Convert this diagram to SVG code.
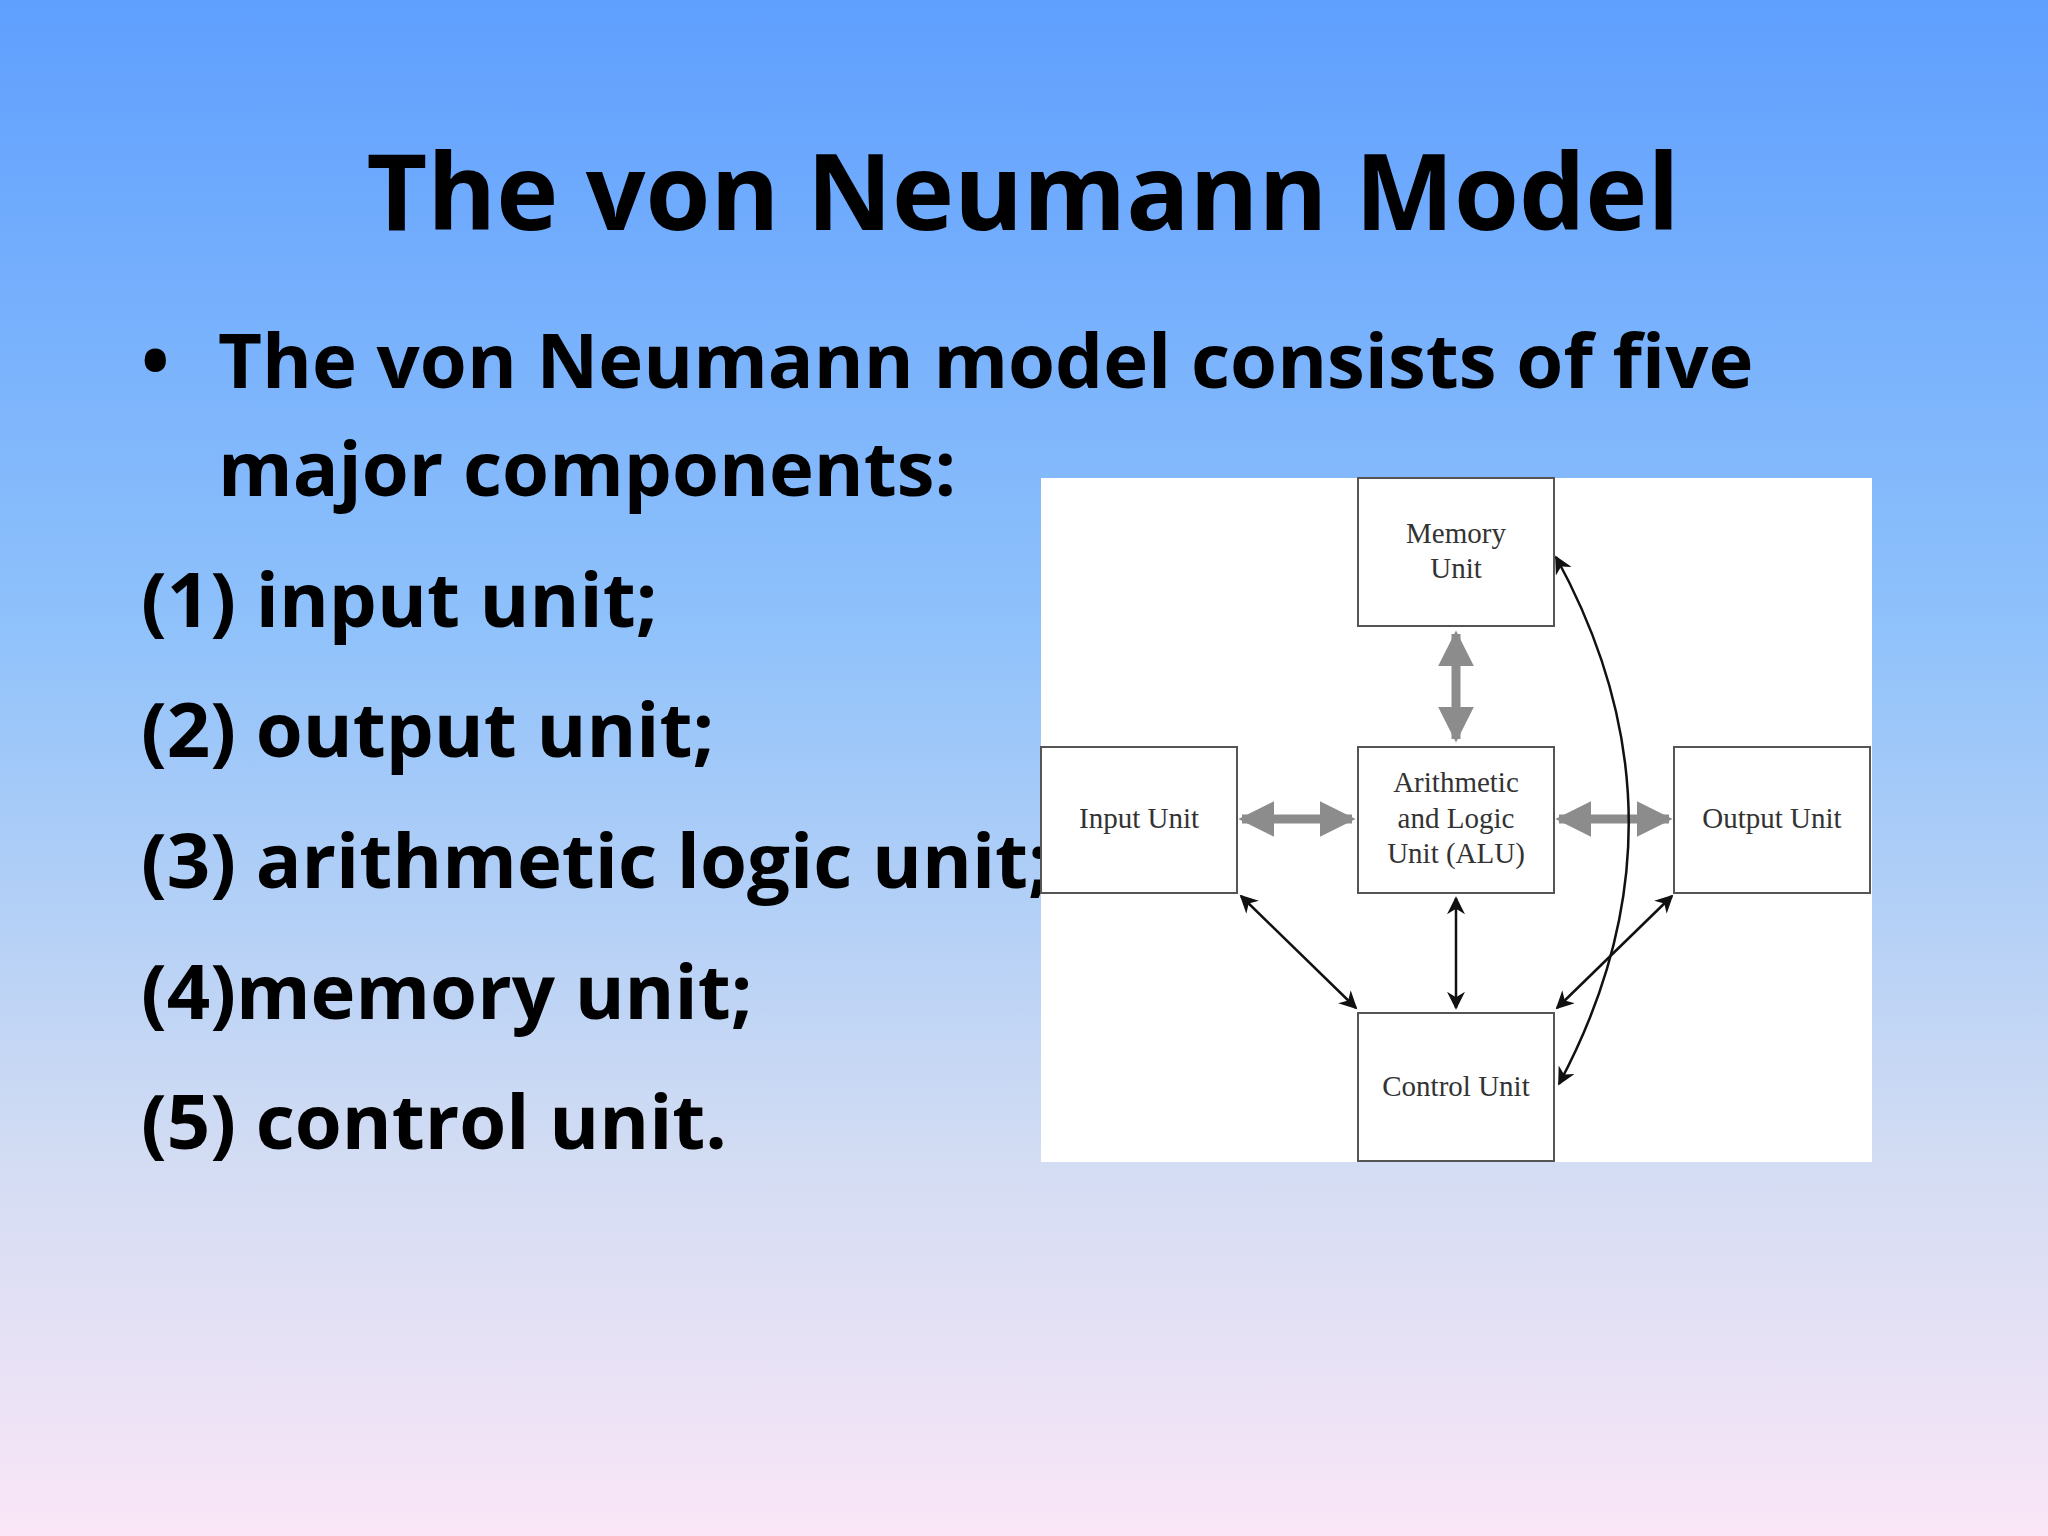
<svg xmlns="http://www.w3.org/2000/svg" width="2048" height="1536" viewBox="0 0 2048 1536">
<defs>
<linearGradient id="bg" x1="0" y1="0" x2="0" y2="1">
<stop offset="0" stop-color="#5f9ffe"/>
<stop offset="0.4" stop-color="#8ec1fb"/>
<stop offset="0.75" stop-color="#d2dcf3"/>
<stop offset="1" stop-color="#fae6f7"/>
</linearGradient>
<marker id="ga" viewBox="0 0 10 10" refX="9" refY="5" markerWidth="4" markerHeight="4" orient="auto-start-reverse"><path d="M0,0 L10,5 L0,10 Z" fill="#8c8c8c"/></marker>
<marker id="ba" viewBox="0 0 10 10" refX="9" refY="5" markerWidth="20" markerHeight="18" markerUnits="userSpaceOnUse" orient="auto-start-reverse"><path d="M0,0 L10,5 L0,10 L3,5 Z" fill="#111"/></marker>
<style>
.t{font-family:"Open Sans","Liberation Sans",sans-serif;font-weight:bold;fill:#000}
.box{fill:#fff;stroke:#555;stroke-width:2}
.lb{font-family:"Liberation Serif",serif;font-size:29px;fill:#333;text-anchor:middle}
.g{stroke:#8c8c8c;stroke-width:9;fill:none;marker-start:url(#ga);marker-end:url(#ga)}
.b{stroke:#111;stroke-width:2.5;fill:none;marker-start:url(#ba);marker-end:url(#ba)}
</style>
</defs>
<rect width="2048" height="1536" fill="url(#bg)"/>
<text class="t" x="1023" y="230" font-size="105" text-anchor="middle">The von Neumann Model</text>
<g class="t" font-size="76">
<text x="141" y="388">•</text>
<text x="218" y="388">The von Neumann model consists of five</text>
<text x="218" y="496">major components:</text>
<text x="141" y="627">(1) input unit;</text>
<text x="141" y="757">(2) output unit;</text>
<text x="141" y="888">(3) arithmetic logic unit;</text>
<text x="141" y="1019">(4)memory unit;</text>
<text x="141" y="1149">(5) control unit.</text>
</g>
<rect x="1041" y="478" width="831" height="684" fill="#fff"/>
<g id="connectors">
<line class="g" x1="1456" y1="634" x2="1456" y2="739"/>
<line class="g" x1="1242" y1="819" x2="1352" y2="819"/>
<line class="g" x1="1559" y1="819" x2="1669" y2="819"/>
<line class="b" x1="1456" y1="898" x2="1456" y2="1008"/>
<line class="b" x1="1241" y1="896" x2="1356" y2="1008"/>
<line class="b" x1="1672" y1="896" x2="1557" y2="1008"/>
<path class="b" d="M1556,557 Q1700,820 1559,1084"/>
</g>
<g id="memory"><rect class="box" x="1358" y="478" width="196" height="148"/><text class="lb" x="1456" y="543">Memory</text><text class="lb" x="1456" y="578">Unit</text></g>
<g id="input"><rect class="box" x="1041" y="747" width="196" height="146"/><text class="lb" x="1139" y="828">Input Unit</text></g>
<g id="alu"><rect class="box" x="1358" y="747" width="196" height="146"/><text class="lb" x="1456" y="792">Arithmetic</text><text class="lb" x="1456" y="828">and Logic</text><text class="lb" x="1456" y="863">Unit (ALU)</text></g>
<g id="output"><rect class="box" x="1674" y="747" width="196" height="146"/><text class="lb" x="1772" y="828">Output Unit</text></g>
<g id="control"><rect class="box" x="1358" y="1013" width="196" height="148"/><text class="lb" x="1456" y="1096">Control Unit</text></g>
</svg>
